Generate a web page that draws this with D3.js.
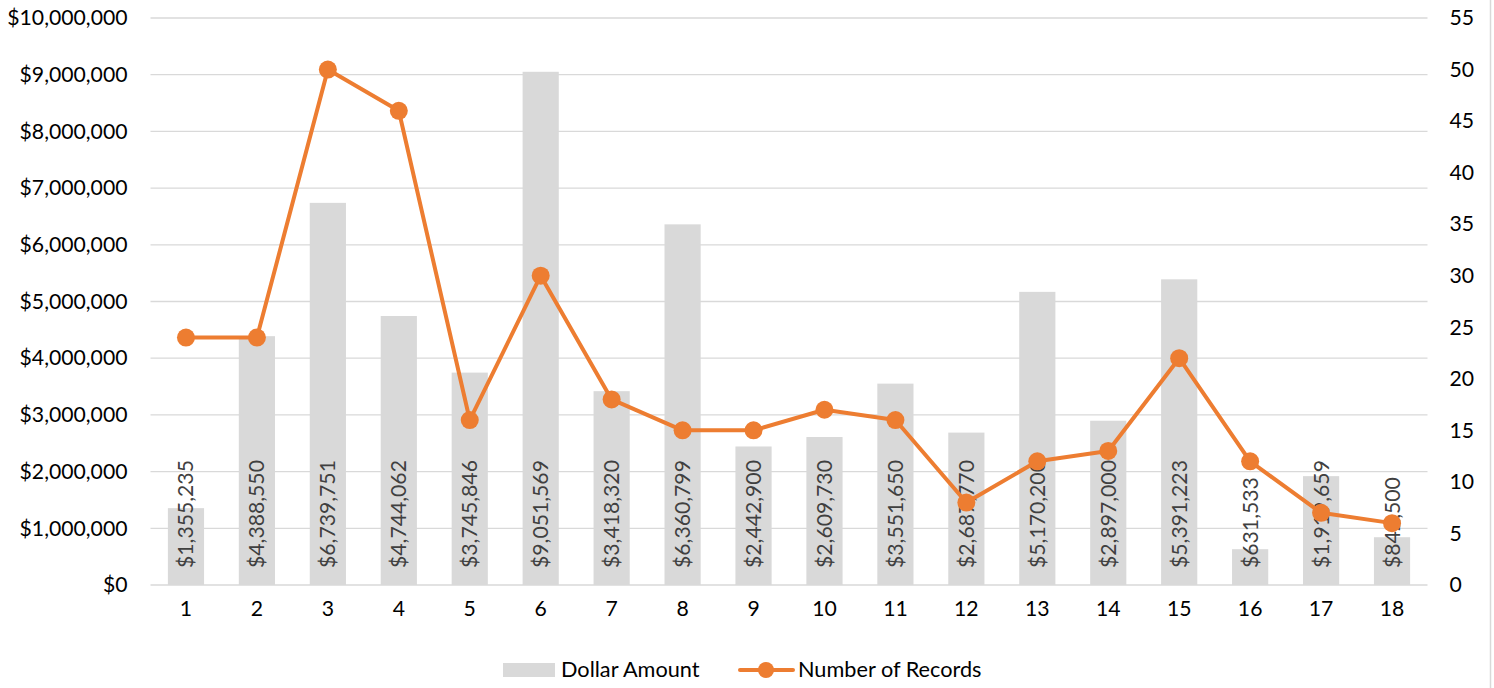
<!DOCTYPE html>
<html><head><meta charset="utf-8">
<script src="https://cdn.jsdelivr.net/npm/d3@7/dist/d3.min.js"></script>
<style>body{margin:0;background:#fff;}svg{display:block;}text{font-family:Lato,"Open Sans",sans-serif;}</style>
</head><body><svg id="c" width="1494" height="688"></svg>
<script>
const categories = ["1","2","3","4","5","6","7","8","9","10","11","12","13","14","15","16","17","18"];
const dollarAmount = [1355235,4388550,6739751,4744062,3745846,9051569,3418320,6360799,2442900,2609730,3551650,2687770,5170200,2897000,5391223,631533,1919659,842500];
const numberOfRecords = [24,24,50,46,16,30,18,15,15,17,16,8,12,13,22,12,7,6];
const leftTicks = [0,1000000,2000000,3000000,4000000,5000000,6000000,7000000,8000000,9000000,10000000];
const rightTicks = [0,5,10,15,20,25,30,35,40,45,50,55];
const seriesNames = ["Dollar Amount","Number of Records"];

const svg = d3.select("#c");
const L = 150.5, R = 1427.5, T = 18, B = 585;
const x = d3.scaleBand().domain(categories).range([L,R]).paddingInner(0.49).paddingOuter(0.245);
const yL = d3.scaleLinear().domain([0,10000000]).range([B,T]);
const yR = d3.scaleLinear().domain([0,55]).range([B,T]);
const fmt = v => "$" + d3.format(",")(v);
const FS = 21.2;

// right border
svg.append("line").attr("x1",1490.5).attr("x2",1490.5).attr("y1",0).attr("y2",688).attr("stroke","#d9d9d9").attr("stroke-width",1.5);

// gridlines
svg.append("g").selectAll("line").data(leftTicks).join("line")
  .attr("x1",L).attr("x2",R).attr("y1",d=>yL(d)).attr("y2",d=>yL(d))
  .attr("stroke","#d9d9d9").attr("stroke-width",1.3);

// left axis
const gl = svg.append("g").attr("transform",`translate(${L},0)`)
  .call(d3.axisLeft(yL).tickValues(leftTicks).tickFormat(fmt).tickSize(0).tickPadding(23));
gl.select(".domain").remove();
gl.selectAll("text").attr("font-size",FS).attr("fill","#000");

// right axis
const gr = svg.append("g").attr("transform",`translate(${R},0)`)
  .call(d3.axisRight(yR).tickValues(rightTicks).tickSize(0).tickPadding(22));
gr.select(".domain").remove();
gr.selectAll("text").attr("font-size",FS).attr("fill","#000");

// bottom axis
const gb = svg.append("g").attr("transform",`translate(0,${B})`)
  .call(d3.axisBottom(x).tickSize(0).tickPadding(16));
gb.select(".domain").remove();
gb.selectAll("text").attr("font-size",FS).attr("fill","#000");

// bars
svg.append("g").selectAll("rect").data(dollarAmount).join("rect")
  .attr("x",(d,i)=>x(categories[i])).attr("width",x.bandwidth())
  .attr("y",d=>yL(d)).attr("height",d=>B-yL(d)).attr("fill","#d9d9d9");

// bar labels
svg.append("g").selectAll("text").data(dollarAmount).join("text")
  .attr("transform",(d,i)=>`translate(${x(categories[i])+x.bandwidth()/2+7.5},${B-17}) rotate(-90)`)
  .attr("font-size",FS).attr("fill","#404040").text(d=>fmt(d));

// line
const cx = i => x(categories[i]) + x.bandwidth()/2;
svg.append("path").datum(numberOfRecords)
  .attr("d", d3.line().x((d,i)=>cx(i)).y(d=>yR(d)))
  .attr("fill","none").attr("stroke","#ed7d31").attr("stroke-width",4).attr("stroke-linejoin","round");
svg.append("g").selectAll("circle").data(numberOfRecords).join("circle")
  .attr("cx",(d,i)=>cx(i)).attr("cy",d=>yR(d)).attr("r",9).attr("fill","#ed7d31");

// legend
const lg = svg.append("g");
lg.append("rect").attr("x",503).attr("y",663).attr("width",52).attr("height",14).attr("fill","#d9d9d9");
lg.append("text").attr("x",561).attr("y",677).attr("font-size",FS+0.5).attr("fill","#000").text(seriesNames[0]);
lg.append("line").attr("x1",740).attr("x2",793).attr("y1",670).attr("y2",670).attr("stroke","#ed7d31").attr("stroke-width",4).attr("stroke-linecap","round");
lg.append("circle").attr("cx",766).attr("cy",670).attr("r",8).attr("fill","#ed7d31");
lg.append("text").attr("x",798).attr("y",677).attr("font-size",FS+0.5).attr("fill","#000").text(seriesNames[1]);
</script></body></html>
